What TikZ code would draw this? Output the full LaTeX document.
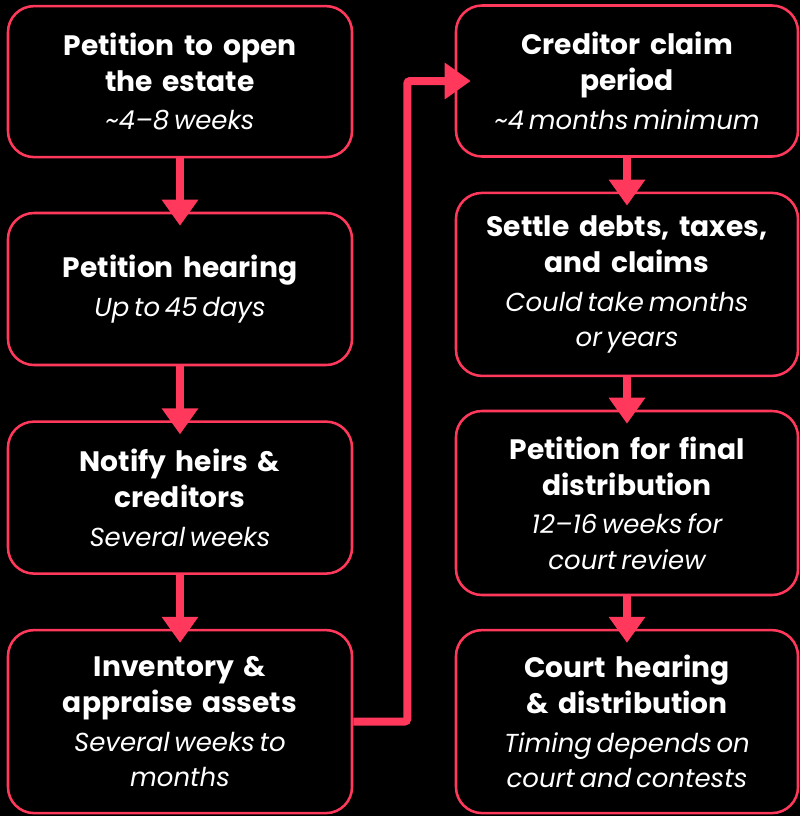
\documentclass[tikz,border=0pt]{standalone}
\usepackage{fontspec}
\setmainfont{Poppins}[WordSpace=1.6]
\usepackage{tikz}
\usetikzlibrary{positioning, arrows.meta}
\definecolor{probred}{RGB}{255,56,92}
\newcommand{\steptitle}[1]{{\fontsize{20}{25.6}\selectfont\bfseries\spaceskip=0.34em\relax #1\par}}
\newcommand{\steptime}[1]{{\fontsize{18.5}{25}\selectfont\itshape\vspace{2.5pt}#1\par}}

\begin{document}
\begin{tikzpicture}[
        stepbox/.style={draw=probred, line width=1.8pt, fill=black, rounded corners=0.65cm,
            minimum width=8.6cm, text width=7.8cm, align=center, text=white, inner sep=0pt},
        flow/.style={draw=probred, line width=0.2cm, -{Triangle[width=0.875cm,length=0.65cm]}}
    ]
            \fill[black] (0,0) rectangle (20,-20.4);

            % left column
            \node[stepbox, minimum height=3.775cm] (open) at (4.5,-2.04)
                {\steptitle{Petition to open\\the estate}\steptime{\textasciitilde 4–8 weeks}};
            \node[stepbox, minimum height=3.8cm] (hearing) at (4.5,-7.225)
                {\steptitle{Petition hearing}\steptime{Up to 45 days}};
            \node[stepbox, minimum height=3.8cm] (notify) at (4.5,-12.44)
                {\steptitle{Notify heirs \&\\creditors}\steptime{Several weeks}};
            \node[stepbox, minimum height=4.575cm] (inventory) at (4.5,-18.04)
                {\steptitle{Inventory \&\\appraise assets}\steptime{Several weeks to\\months}};

            % right column
            \node[stepbox, minimum width=8.55cm, minimum height=3.775cm] (claims) at (15.675,-2.025)
                {\steptitle{Creditor claim\\period}\steptime{\textasciitilde 4 months minimum}};
            \node[stepbox, minimum width=8.55cm, minimum height=4.575cm] (settle) at (15.675,-7.11)
                {\steptitle{Settle debts, taxes,\\and claims}\steptime{Could take months\\or years}};
            \node[stepbox, minimum width=8.55cm, minimum height=4.6cm] (final) at (15.675,-12.575)
                {\steptitle{Petition for final\\distribution}\steptime{12–16 weeks for\\court review}};
            \node[stepbox, minimum width=8.55cm, minimum height=4.575cm] (court) at (15.675,-18.04)
                {\steptitle{Court hearing\\\& distribution}\steptime{Timing depends on\\court and contests}};

            \draw[flow] (open) -- ([yshift=-0.35cm]hearing.north);
            \draw[flow] (hearing) -- ([yshift=-0.35cm]notify.north);
            \draw[flow] (notify) -- ([yshift=-0.35cm]inventory.north);
            \draw[flow, rounded corners=2pt] (inventory.east) -- ++(1.35,0) |- ([xshift=0.4cm]claims.west);
            \draw[flow] (claims) -- ([yshift=-0.35cm]settle.north);
            \draw[flow] (settle) -- ([yshift=-0.35cm]final.north);
            \draw[flow] (final) -- ([yshift=-0.35cm]court.north);
        \end{tikzpicture}
\end{document}
